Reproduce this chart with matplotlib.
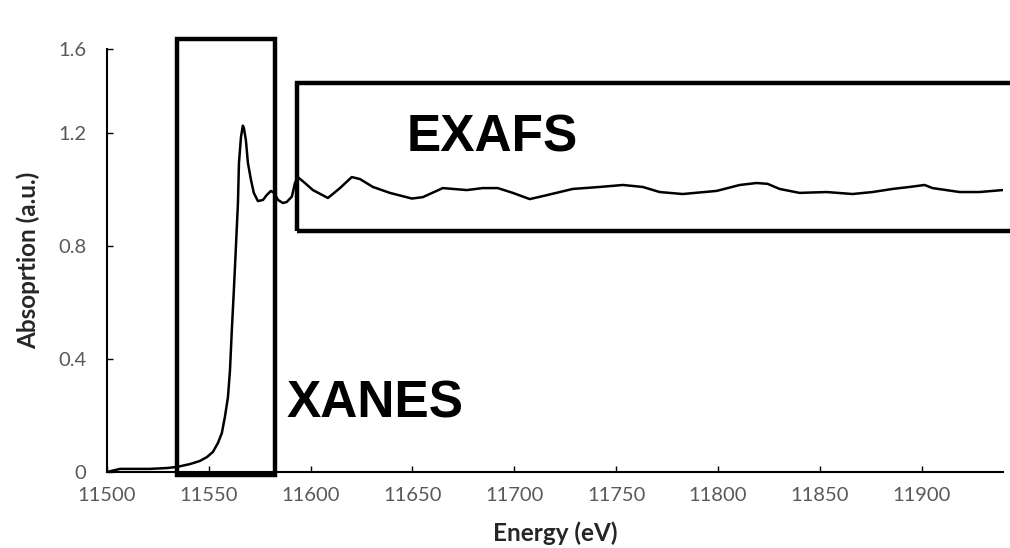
import numpy as np
import matplotlib
matplotlib.use("Agg")
import matplotlib.pyplot as plt
from matplotlib.patches import Rectangle

# ---- data ----
energy = [11500, 11506.4, 11512.8, 11521.1, 11529.4, 11534.4, 11540.7, 11545.6, 11549.1,
          11552.0, 11554.5, 11556.4, 11557.9, 11559.4, 11560.4, 11561.3, 11562.3, 11563.3,
          11564.3, 11564.8, 11565.8, 11566.7, 11567.2, 11568.2, 11569.2, 11570.7, 11572.1,
          11574.1, 11576.6, 11578.5, 11580.5, 11582.0, 11584.0, 11586.4, 11588.3, 11590.8,
          11592.3, 11593.7, 11597.2, 11601.1, 11608.5, 11614.4, 11620.2, 11624.2, 11630.6,
          11638.9, 11649.7, 11655.1, 11664.9, 11676.7, 11684.5, 11691.9, 11699.3, 11707.6,
          11716.0, 11728.7, 11742.0, 11753.3, 11763.1, 11771.4, 11782.7, 11799.4, 11810.7,
          11819.0, 11824.4, 11830.3, 11840.1, 11853.4, 11866.1, 11875.9, 11885.8, 11894.1,
          11901.5, 11905.4, 11918.7, 11928.5, 11939.8]
absorption = [0.000, 0.011, 0.011, 0.011, 0.014, 0.018, 0.028, 0.039, 0.053,
              0.071, 0.103, 0.138, 0.195, 0.265, 0.361, 0.503, 0.644, 0.796,
              0.952, 1.094, 1.186, 1.235, 1.225, 1.175, 1.094, 1.034, 0.988,
              0.959, 0.963, 0.981, 0.995, 0.988, 0.963, 0.952, 0.956, 0.975,
              1.023, 1.044, 1.023, 0.998, 0.970, 1.005, 1.044, 1.037, 1.009,
              0.988, 0.968, 0.973, 1.005, 0.998, 1.005, 1.005, 0.988, 0.966,
              0.980, 1.002, 1.009, 1.016, 1.009, 0.991, 0.984, 0.995, 1.016,
              1.023, 1.020, 1.002, 0.988, 0.991, 0.984, 0.991, 1.002, 1.009,
              1.016, 1.005, 0.991, 0.991, 0.998]
x_ticks = [11500, 11550, 11600, 11650, 11700, 11750, 11800, 11850, 11900]
y_ticks = [0, 0.4, 0.8, 1.2, 1.6]
y_tick_labels = ["0", "0.4", "0.8", "1.2", "1.6"]

W, H = 1010, 548
fig = plt.figure(figsize=(W / 100, H / 100), dpi=100)
fig.patch.set_facecolor("white")

ax = fig.add_axes([107 / W, (H - 472) / H, (1003 - 107) / W, (472 - 49) / H])

# y axis of the reference is compressed above 1.2
k = 84 / 113
def fwd(v):
    v = np.asarray(v, dtype=float)
    return np.where(v <= 1.2, v, 1.2 + (v - 1.2) * k)
def inv(u):
    u = np.asarray(u, dtype=float)
    return np.where(u <= 1.2, u, 1.2 + (u - 1.2) / k)
ax.set_yscale("function", functions=(fwd, inv))

ax.plot(energy, absorption, color="black", lw=1.8, solid_joinstyle="round",
        solid_capstyle="round")
ax.set_xlim(11500, 11940)
ax.set_ylim(0, 1.6)

ax.set_xticks(x_ticks)
ax.set_xticklabels([str(t) for t in x_ticks])
ax.set_yticks(y_ticks)
ax.set_yticklabels(y_tick_labels)
ax.yaxis.set_minor_locator(matplotlib.ticker.NullLocator())

for s in ["top", "right"]:
    ax.spines[s].set_visible(False)
for s in ["left", "bottom"]:
    ax.spines[s].set_linewidth(1.5)
    ax.spines[s].set_color("black")

ax.tick_params(axis="both", direction="in", length=4, width=1, colors="black",
               labelcolor="#595959", labelsize=14.5)
ax.tick_params(axis="x", pad=11)
ax.tick_params(axis="y", pad=15)
for lab in ax.get_xticklabels() + ax.get_yticklabels():
    lab.set_family("Lato")

ax.set_xlabel("Energy (eV)", fontsize=17.5, fontweight="bold", family="Lato",
              color="#262626")
ax.xaxis.set_label_coords(0.5, -(521 - 472) / 423)
ax.set_ylabel("Absoprtion (a.u.)", fontsize=17.5, fontweight="bold", family="Lato",
              color="#262626")
ax.yaxis.set_label_coords(-(107 - 40) / 896, 0.5)

# annotation boxes (figure pixel coordinates)
def box(x0, y0, x1, y1):
    r = Rectangle((x0 / W, 1 - y1 / H), (x1 - x0) / W, (y1 - y0) / H,
                  transform=fig.transFigure, fill=False, edgecolor="black",
                  lw=3.2, clip_on=False)
    fig.add_artist(r)

box(177, 39, 275, 475)
box(297, 83, 1025, 231)

fig.text(407 / W, 1 - 152 / H, "EXAFS", fontsize=37, fontweight="bold",
         family="Liberation Sans", color="black", ha="left", va="baseline")
fig.text(287 / W, 1 - 418 / H, "XANES", fontsize=37, fontweight="bold",
         family="Liberation Sans", color="black", ha="left", va="baseline")

fig.savefig("out.png", dpi=100, facecolor="white")
